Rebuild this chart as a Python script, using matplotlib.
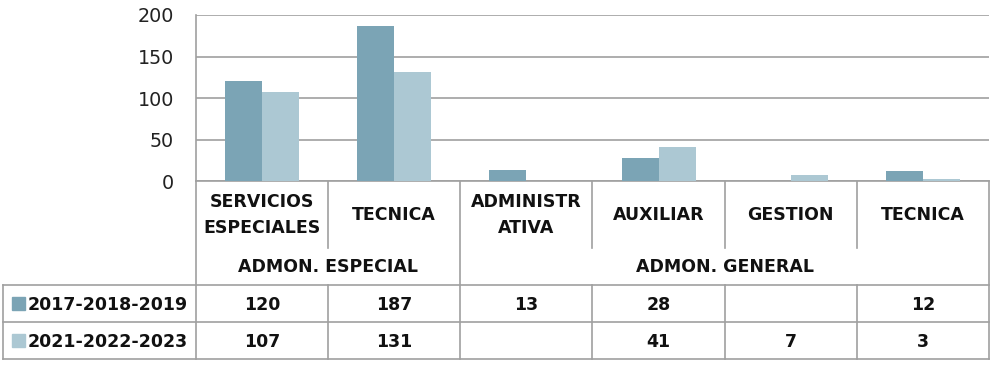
import numpy as np
import matplotlib
matplotlib.use('Agg')
import matplotlib.pyplot as plt

plt.rcParams['font.family'] = ['DejaVu Sans']

# data
categories = ['SERVICIOS\nESPECIALES', 'TECNICA', 'ADMINISTR\nATIVA', 'AUXILIAR', 'GESTION', 'TECNICA']
groups = ['ADMON. ESPECIAL', 'ADMON. GENERAL']
group_sizes = [2, 4]
series_names = ['2017-2018-2019', '2021-2022-2023']
values_1 = [120, 187, 13, 28, None, 12]
values_2 = [107, 131, None, 41, 7, 3]
yticks = [0, 50, 100, 150, 200]

colors = ['#7BA4B5', '#ACC8D3']
line_col = '#A0A0A0'
text_col = '#111111'

W, H = 994, 365
fig = plt.figure(figsize=(W / 100, H / 100), dpi=100)

# plot area (pixel bounds taken from the reference layout)
left, right, top, bottom = 196, 989, 15, 181
ax = fig.add_axes([left / W, 1 - bottom / H, (right - left) / W, (bottom - top) / H])

x = np.arange(len(categories))
bw = 0.28
for k, vals in enumerate([values_1, values_2]):
    v = np.array([np.nan if a is None else a for a in vals], dtype=float)
    ax.bar(x + (k - 0.5) * bw, v, width=bw, color=colors[k], zorder=3)

ax.set_xlim(-0.5, len(categories) - 0.5)
ax.set_ylim(0, 200)
ax.set_yticks(yticks)
ax.set_xticks([])
ax.yaxis.grid(True, color=line_col, linewidth=1.2, zorder=0)
ax.tick_params(axis='y', length=0, pad=16, labelsize=13.8, labelcolor='#222222')
for s in ['top', 'right']:
    ax.spines[s].set_visible(False)
for s in ['left', 'bottom']:
    ax.spines[s].set_color(line_col)
    ax.spines[s].set_linewidth(1.2)

# data table below the plot, drawn in pixel coordinates
tab = fig.add_axes([0, 0, 1, 1], zorder=-1)
tab.set_xlim(0, W)
tab.set_ylim(H, 0)
tab.axis('off')


def px(xd):
    # data x of the bar axes -> figure pixel x
    return ax.transData.transform((xd, 0))[0]


cat_bot = 248
grp_bot = 285
row_h = 37
tab_left = 3
rows_y = [grp_bot, grp_bot + row_h, grp_bot + 2 * row_h]
lw = 1.2
fs = 12.5

edges = [px(i - 0.5) for i in range(len(categories) + 1)]
grp_edges = np.cumsum([0] + group_sizes)

# vertical lines
for i, e in enumerate(edges):
    if i in grp_edges:
        tab.plot([e, e], [bottom, rows_y[-1]], color=line_col, lw=lw)
    else:
        tab.plot([e, e], [bottom, cat_bot], color=line_col, lw=lw)
        tab.plot([e, e], [grp_bot, rows_y[-1]], color=line_col, lw=lw)
tab.plot([tab_left, tab_left], [grp_bot, rows_y[-1]], color=line_col, lw=lw)

# horizontal lines
for y in rows_y:
    tab.plot([tab_left, edges[-1]], [y, y], color=line_col, lw=lw)

# category labels (one or two lines each)
for i, c in enumerate(categories):
    lines = c.split('\n')
    base = [220] if len(lines) == 1 else [207, 233]
    for ln, yb in zip(lines, base):
        tab.text(px(i), yb, ln, ha='center', va='baseline',
                 fontsize=fs, fontweight='bold', color=text_col)

# group labels
for g, name in enumerate(groups):
    xc = (edges[grp_edges[g]] + edges[grp_edges[g + 1]]) / 2
    tab.text(xc, 272, name, ha='center', va='baseline',
             fontsize=fs, fontweight='bold', color=text_col)

# series rows
for r, (name, vals) in enumerate(zip(series_names, [values_1, values_2])):
    yb = rows_y[r] + 25
    tab.add_patch(plt.Rectangle((12, yb - 13), 13, 13, color=colors[r]))
    tab.text(28, yb, name, ha='left', va='baseline', fontsize=fs,
             fontweight='bold', color=text_col)
    for i, v in enumerate(vals):
        if v is not None:
            tab.text(px(i), yb, str(v), ha='center', va='baseline', fontsize=fs,
                     fontweight='bold', color=text_col)

fig.savefig('out.png', dpi=100)
